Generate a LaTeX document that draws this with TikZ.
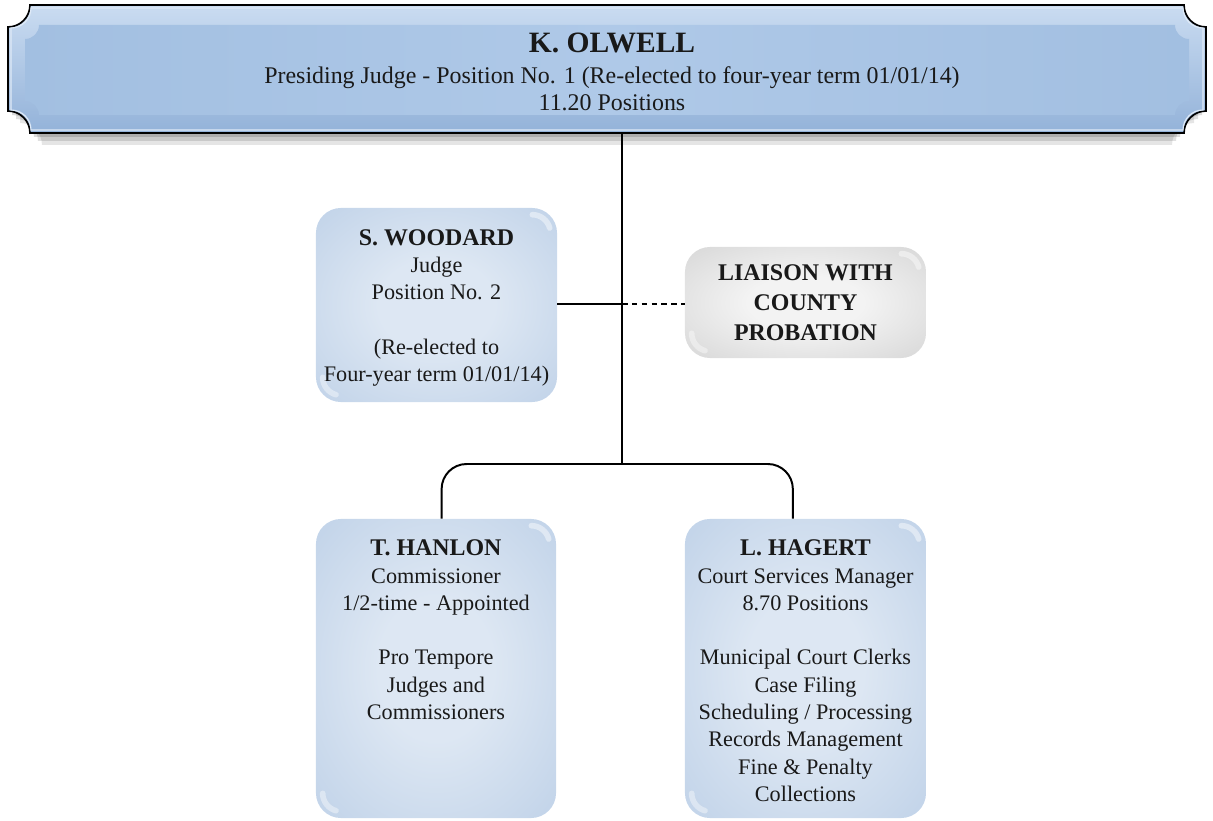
\documentclass[tikz,border=0pt]{standalone}
\usepackage{fontspec}
\setmainfont{Liberation Serif}
\usetikzlibrary{calc}

\definecolor{boxblue}{HTML}{B2C8E3}
\definecolor{boxlight}{HTML}{DDE7F3}
\definecolor{greyedge}{HTML}{C9C9C9}
\definecolor{greylight}{HTML}{F3F3F3}
\definecolor{plaquetop}{HTML}{CADCF1}
\definecolor{plaquebot}{HTML}{93B2D9}
\definecolor{plaquemid}{HTML}{AFC9E8}
\definecolor{plaqueside}{HTML}{A2BFE1}

\pgfdeclareradialshading{blueglow}{\pgfpoint{0bp}{0bp}}{%
  color(0bp)=(boxlight); color(12bp)=(boxlight); color(48bp)=(boxblue); color(80bp)=(boxblue)}
\pgfdeclareradialshading{greyglow}{\pgfpoint{0bp}{0bp}}{%
  color(0bp)=(greylight); color(12bp)=(greylight); color(48bp)=(greyedge); color(80bp)=(greyedge)}

% plaque outline with concave (notched) corners: x1, y-top, x2, y-bottom, notch radius
\newcommand\plaquepath[5]{(#1+#5,#2) -- (#3-#5,#2) arc[start angle=180,end angle=270,radius=#5]
  -- (#3,#4+#5) arc[start angle=90,end angle=180,radius=#5]
  -- (#1+#5,#4) arc[start angle=0,end angle=90,radius=#5]
  -- (#1,#2-#5) arc[start angle=270,end angle=360,radius=#5] -- cycle}

% glossy highlights in two corners of a rounded box
\newcommand\glossbox[1]{%
  \draw[white, opacity=0.45, line width=4pt, line cap=round]
    ($(#1.north east)+(-25,-7)$) arc[start angle=90,end angle=15,radius=18];
  \draw[white, opacity=0.4, line width=4pt, line cap=round]
    ($(#1.south west)+(7,25)$) arc[start angle=180,end angle=255,radius=18];}

\newcommand\bodyfont{\fontsize{15.8}{19.4}\selectfont}
\newcommand\headfont{\fontsize{17}{19.4}\selectfont\bfseries}

\tikzset{
  orgbox/.style={rounded corners=0.625cm, shading=blueglow, draw=none,
    align=center, inner sep=0pt, font=\bodyfont, text=black!90},
  greybox/.style={orgbox, shading=greyglow},
  link/.style={line width=1.4pt, black},
  dottedlink/.style={link, dash pattern=on 4pt off 3pt}
}

\begin{document}
\begin{tikzpicture}[x=0.025cm,y=0.025cm]
\useasboundingbox (0,0) rectangle (1213,-821);

% ---- top plaque ----
\foreach \k/\o in {12/0.10,8/0.12,4/0.14}
  \fill[black, opacity=\o] \plaquepath{8+\k}{-5-\k}{1206-\k}{-133-\k}{22};
\path[top color=plaquetop, bottom color=plaquebot, draw=black, line width=1.2pt]
  \plaquepath{8}{-5}{1206}{-133}{22};
\draw[plaquetop!60!white, line width=0.8pt] \plaquepath{11}{-8}{1203}{-130}{20};
\path[left color=plaqueside, right color=plaqueside, middle color=plaquemid]
  \plaquepath{25}{-25}{1189}{-115}{14};
\node[minimum width=29.95cm, minimum height=3.2cm, inner sep=0pt] (banner) at (607,-69) {};
\node[align=center, inner sep=0pt, font=\fontsize{17}{19.8}\selectfont, text=black!90] (olwell) at (612,-72)
  {{\fontsize{21}{22}\selectfont\bfseries K. OLWELL}\\[2.2pt]
   Presiding Judge - Position No. 1 (Re-elected to four-year term 01/01/14)\\
   11.20 Positions};

% ---- boxes ----
\node[orgbox, minimum width=6.025cm, minimum height=4.85cm] (woodard) at (436.5,-305) {};
\node[align=center, inner sep=0pt, font=\bodyfont, text=black!90] (woodardtext) at (436.5,-308)
  {\headfont S. WOODARD\\ Judge\\ Position No. 2\\[19.4pt] (Re-elected to\\ Four-year term 01/01/14)};
\node[greybox, minimum width=6.025cm, minimum height=2.775cm] (liaison) at (805.5,-302.5) {};
\node[align=center, inner sep=0pt, text=black!90,
      font=\fontsize{17}{21.3}\selectfont\bfseries] (liaisontext) at (805.5,-303)
  {LIAISON WITH\\ COUNTY\\ PROBATION};
\node[orgbox, minimum width=6cm, minimum height=7.475cm] (hanlon) at (436,-668.5) {};
\node[orgbox, minimum width=6.025cm, minimum height=7.475cm] (hagert) at (805.5,-668.5) {};

\node[align=center, inner sep=0pt, font=\bodyfont, text=black!90, anchor=north]
  (hanlontext) at ($(hanlon.north)+(0,-21)$)
  {\headfont T. HANLON\\ Commissioner\\ 1/2-time - Appointed\\[19.4pt]
   Pro Tempore\\ Judges and\\ Commissioners};
\node[align=center, inner sep=0pt, font=\bodyfont, text=black!90, anchor=north]
  (hagerttext) at ($(hagert.north)+(0,-21)$)
  {\headfont L. HAGERT\\ Court Services Manager\\ 8.70 Positions\\[19.4pt]
   Municipal Court Clerks\\ Case Filing\\ Scheduling / Processing\\
   Records Management\\ Fine \& Penalty\\ Collections};

\glossbox{woodard}
\glossbox{liaison}
\glossbox{hanlon}
\glossbox{hagert}

% ---- connectors ----
\coordinate (mid) at (622,-304);
\coordinate (split) at (622,-464);
\draw[link] (banner.south -| split) -- (split);
\draw[link] (woodard.east |- mid) -- (mid);
\draw[dottedlink] (mid) -- (liaison.west |- mid);
\draw[link, rounded corners=0.625cm] (split) -| ([xshift=4]hanlon.north);
\draw[link, rounded corners=0.625cm] (split) -| ([xshift=-9]hagert.north);
\end{tikzpicture}
\end{document}
